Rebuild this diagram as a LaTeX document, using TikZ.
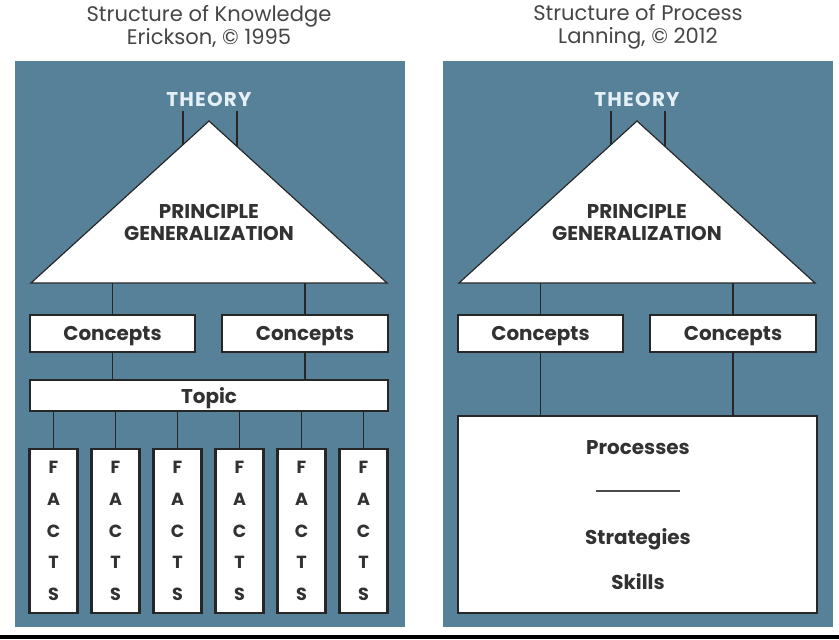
\documentclass[tikz,border=0pt]{standalone}
\usepackage{fontspec}
\setmainfont{Poppins}
\usetikzlibrary{calc}
\definecolor{panelblue}{RGB}{87,128,153}
\definecolor{inkgray}{RGB}{50,50,50}
\definecolor{titlegray}{RGB}{70,70,70}
\definecolor{theorywhite}{RGB}{228,240,246}
\newcommand\pxu{0.03cm}

\begin{document}
\begin{tikzpicture}[x=0.03cm,y=-0.03cm,
  every node/.style={font=\fontsize{18}{19.6}\selectfont,inner sep=0pt},
  panel/.style={fill=panelblue},
  wbox/.style={draw=black!85,line width=1.8pt,fill=white,text=inkgray,font=\fontsize{17}{19.5}\selectfont\bfseries},
  flat/.style={text depth=0pt},
  link/.style={draw=black!85,line width=1.5pt},
  tri/.style={draw=black!85,line width=1pt,fill=white},
  label/.style={text=inkgray,font=\fontsize{17}{19.6}\selectfont\bfseries}]
  \useasboundingbox (0,0) rectangle (839,639);
  \fill[black] (0,635) rectangle (839,639);
  % knowledge
  \begin{scope}
    \node[text=titlegray,align=center] (kTitle) at (209,26.5) {Structure of Knowledge\\Erickson, © 1995};
    \fill[panel] (15,61) rectangle (405,627);
    \node[label,text=theorywhite,font=\fontsize{17}{19.6}\selectfont\bfseries\addfontfeature{LetterSpace=6}] (kTheory) at (209,99) {THEORY};
    \coordinate (kApex) at (209,121);
    \coordinate (kBL) at (31,283);
    \coordinate (kBR) at (387,283);
    \coordinate (kTL) at ($(kApex)!0.146!(kBL)$);
    \coordinate (kTR) at ($(kApex)!0.157!(kBR)$);
    \draw[link,shorten <=4pt] (kTL |- kTheory.south) -- (kTL);
    \draw[link,shorten <=4pt] (kTR |- kTheory.south) -- (kTR);
    \filldraw[tri] (kApex) -- (kBR) -- (kBL) -- cycle;
    \node[label,align=center] (kPrin) at (209,222.5) {PRINCIPLE\\GENERALIZATION};
    \node[wbox,flat,minimum width=165*\pxu,minimum height=37*\pxu] (kConA) at (112.5,333.5) {Concepts};
    \node[wbox,flat,minimum width=166*\pxu,minimum height=37*\pxu] (kConB) at (305,333.5) {Concepts};
    \node[wbox,flat,minimum width=358*\pxu,minimum height=31*\pxu] (kTopic) at (209,395.5) {Topic};
    \draw[link] (kConA |- kBL) -- (kConA.north);
    \draw[link] (kConB |- kBL) -- (kConB.north);
    \draw[link] (kConA.south) -- (kConA.south |- kTopic.north);
    \draw[link] (kConB.south) -- (kConB.south |- kTopic.north);
    \foreach \i in {0,...,5} {
      \node[wbox,align=center,minimum width=48*\pxu,minimum height=164*\pxu,
        font=\fontsize{15}{27}\selectfont\bfseries] (kFact\i) at (53.5+62*\i,531) {F\\A\\C\\T\\S};
      \draw[link] (kFact\i.north |- kTopic.south) -- (kFact\i.north);
    }
  \end{scope}
  % process
  \begin{scope}[shift={(428,0)}]
    \node[text=titlegray,align=center] (pTitle) at (210,26.5) {Structure of Process\\Lanning, © 2012};
    \fill[panel] (15,61) rectangle (405,627);
    \node[label,text=theorywhite,font=\fontsize{17}{19.6}\selectfont\bfseries\addfontfeature{LetterSpace=6}] (pTheory) at (209,99) {THEORY};
    \coordinate (pApex) at (209,121);
    \coordinate (pBL) at (31,283);
    \coordinate (pBR) at (387,283);
    \coordinate (pTL) at ($(pApex)!0.146!(pBL)$);
    \coordinate (pTR) at ($(pApex)!0.157!(pBR)$);
    \draw[link,shorten <=4pt] (pTL |- pTheory.south) -- (pTL);
    \draw[link,shorten <=4pt] (pTR |- pTheory.south) -- (pTR);
    \filldraw[tri] (pApex) -- (pBR) -- (pBL) -- cycle;
    \node[label,align=center] (pPrin) at (209,222.5) {PRINCIPLE\\GENERALIZATION};
    \node[wbox,flat,minimum width=165*\pxu,minimum height=37*\pxu] (pConA) at (112.5,333.5) {Concepts};
    \node[wbox,flat,minimum width=166*\pxu,minimum height=37*\pxu] (pConB) at (305,333.5) {Concepts};
    \node[wbox,minimum width=359*\pxu,minimum height=197*\pxu] (pBox) at (209.5,514.5) {};
    \draw[link] (pConA |- pBL) -- (pConA.north);
    \draw[link] (pConB |- pBL) -- (pConB.north);
    \draw[link] (pConA.south) -- (pConA.south |- pBox.north);
    \draw[link] (pConB.south) -- (pConB.south |- pBox.north);
    \node[label] (pProc) at (210,448) {Processes};
    \coordinate (pRuleL) at (168,491);
    \coordinate (pRuleR) at (252,491);
    \draw[black!70,line width=1.2pt] (pRuleL) -- (pRuleR);
    \node[label,flat] (pStrat) at (210,537) {Strategies};
    \node[label] (pSkill) at (210,582) {Skills};
  \end{scope}
\end{tikzpicture}
\end{document}
